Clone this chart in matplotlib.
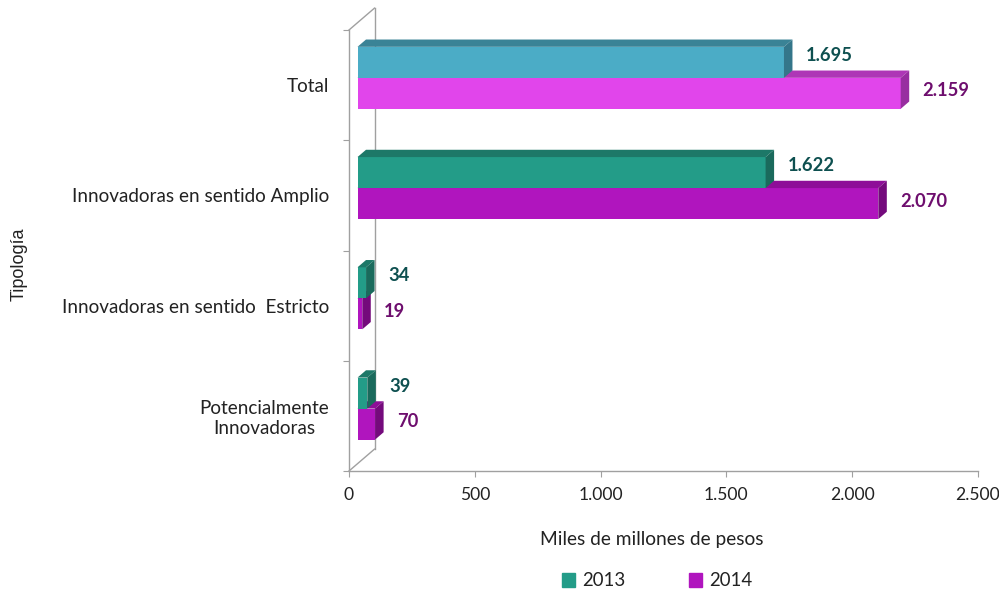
import matplotlib.pyplot as plt
from matplotlib.patches import Polygon, Patch
from matplotlib.ticker import FuncFormatter

# datos del grafico
categorias = ["Total", "Innovadoras en sentido Amplio",
              "Innovadoras en sentido  Estricto", "Potencialmente\nInnovadoras"]
valores_2013 = [1695, 1622, 34, 39]
valores_2014 = [2159, 2070, 19, 70]
etiquetas_2013 = ["1.695", "1.622", "34", "39"]
etiquetas_2014 = ["2.159", "2.070", "19", "70"]
anios = ["2013", "2014"]
xticks = [0, 500, 1000, 1500, 2000, 2500]

# colores (frente, arriba, costado)
col_total_2013 = ("#4BACC6", "#3A8396", "#34768A")
col_total_2014 = ("#E145EB", "#AE36B6", "#982EA0")
col_2013 = ("#239C88", "#1D7868", "#1A6A5C")
col_2014 = ("#B015BE", "#8E0E98", "#740A7C")
txt_2013 = "#0E5050"
txt_2014 = "#6E0E6E"
gris = "#a0a0a0"

plt.rcParams['font.family'] = ['Lato', 'DejaVu Sans']

W, H = 999, 593
fig = plt.figure(figsize=(W / 100, H / 100), dpi=100)
ax = fig.add_axes([349 / W, 122 / H, 629 / W, 441 / H])
ax.set_xlim(0, 2500)
ax.set_ylim(0, 4)

# profundidad en unidades de datos
px_x = 629 / 2500
px_y = 441 / 4
dx = 8.5 / px_x
dy = 7.3 / px_y
h = 31 / px_y

# pared y piso
ax.plot([0, 3 * dx], [4, 4 + 3 * dy], color=gris, lw=1, clip_on=False, zorder=1)
ax.plot([3 * dx, 3 * dx], [3 * dy, 4 + 3 * dy], color=gris, lw=1, clip_on=False, zorder=1)
ax.plot([0, 3 * dx], [0, 3 * dy], color=gris, lw=1, clip_on=False, zorder=1)


def barra3d(y0, v, cols, z):
    fr, top, side = cols
    ax.barh(y0 + dy, v, left=dx, height=h, align='edge', color=fr, zorder=z, clip_on=False)
    ax.add_patch(Polygon([(dx, y0 + h + dy), (dx + v, y0 + h + dy),
                          (2 * dx + v, y0 + h + 2 * dy), (2 * dx, y0 + h + 2 * dy)],
                         closed=True, facecolor=top, edgecolor='none', zorder=z, clip_on=False))
    ax.add_patch(Polygon([(dx + v, y0 + dy), (2 * dx + v, y0 + 2 * dy),
                          (2 * dx + v, y0 + h + 2 * dy), (dx + v, y0 + h + dy)],
                         closed=True, facecolor=side, edgecolor='none', zorder=z, clip_on=False))


for i in range(len(categorias)):
    yc = 3.5 - i
    c13 = col_total_2013 if i == 0 else col_2013
    c14 = col_total_2014 if i == 0 else col_2014
    # primero la barra de abajo (2014), luego 2013
    barra3d(yc - h, valores_2014[i], c14, 3 + 2 * i)
    barra3d(yc, valores_2013[i], c13, 4 + 2 * i)

    ax.annotate(etiquetas_2013[i], xy=(dx + valores_2013[i], yc + h / 2 + dy),
                xytext=(22, 7), textcoords='offset pixels', ha='left', va='center',
                fontsize=13.2, fontweight='bold', color=txt_2013, annotation_clip=False)
    ax.annotate(etiquetas_2014[i], xy=(dx + valores_2014[i], yc - h / 2 + dy),
                xytext=(22, 2.5), textcoords='offset pixels', ha='left', va='center',
                fontsize=13.2, fontweight='bold', color=txt_2014, annotation_clip=False)

# ejes
for s in ['top', 'right']:
    ax.spines[s].set_visible(False)
for s in ['left', 'bottom']:
    ax.spines[s].set_color(gris)
    ax.spines[s].set_linewidth(1)

ax.set_xticks(xticks)
ax.xaxis.set_major_formatter(FuncFormatter(lambda v, p: f"{int(v):,}".replace(",", ".")))
ax.tick_params(axis='x', length=4.3, color=gris, labelsize=12.6, pad=7, labelcolor='#222222')

ax.set_yticks(range(5))
ax.set_yticklabels([])
ax.tick_params(axis='y', which='major', length=4, color=gris)
ax.set_yticks([3.5 - i for i in range(len(categorias))], minor=True)
ax.set_yticklabels(categorias, minor=True)
ax.tick_params(axis='y', which='minor', length=0, pad=14.4, labelsize=13.6, labelcolor='#222222')
for lab in ax.get_yticklabels(minor=True):
    lab.set_multialignment('center')

fig.text(652 / W, 1 - 540 / H, "Miles de millones de pesos", ha='center', va='center',
         fontsize=13.8, color='#222222')
fig.text(19 / W, 1 - 264 / H, "Tipología", ha='center', va='center', rotation=90,
         fontsize=13, family='Liberation Sans', color='#222222')

handles = [Patch(color=col_2013[0]), Patch(color=col_2014[0])]
fig.legend(handles, anios, loc='center', bbox_to_anchor=(657 / W, 1 - 581 / H), ncol=2,
           frameon=False, handlelength=0.7, handleheight=0.7, handletextpad=0.4,
           columnspacing=3.4, fontsize=13.4, labelcolor='#222222')

fig.savefig("out.png", dpi=100)
